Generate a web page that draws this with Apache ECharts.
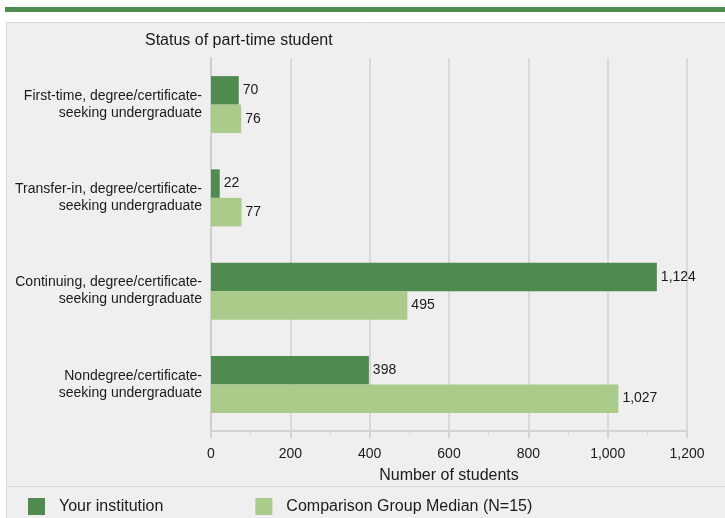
<!DOCTYPE html>
<html><head><meta charset="utf-8">
<script src="https://cdn.jsdelivr.net/npm/echarts@6/dist/echarts.min.js"></script>
<style>html,body{margin:0;padding:0;background:#fff;}#c{width:725px;height:518px;}</style>
</head><body><div id="c"></div>
<script>
const categories = [
  "First-time, degree/certificate-\nseeking undergraduate",
  "Transfer-in, degree/certificate-\nseeking undergraduate",
  "Continuing, degree/certificate-\nseeking undergraduate",
  "Nondegree/certificate-\nseeking undergraduate"
];
const yourInstitution = [70, 22, 1124, 398];
const comparisonMedian = [76, 77, 495, 1027];
const seriesNames = ["Your institution", "Comparison Group Median (N=15)"];
const xTicks = [0, 200, 400, 600, 800, 1000, 1200];

const FONT = '"Liberation Sans", Arial, sans-serif';
const chart = echarts.init(document.getElementById('c'), null, {renderer: 'canvas'});
const fmt = v => v.toLocaleString('en-US');
chart.setOption({
  animation: false,
  backgroundColor: '#ffffff',
  graphic: [
    {type: 'rect', z: -10, shape: {x: 5, y: 7, width: 720, height: 5}, style: {fill: '#4f8a4e'}},
    {type: 'rect', z: -10, shape: {x: 6.5, y: 22.5, width: 730, height: 464}, style: {fill: '#efefef', stroke: '#d9d9d9', lineWidth: 1}},
    {type: 'rect', z: -10, shape: {x: 6.5, y: 486.5, width: 730, height: 40}, style: {fill: '#efefef', stroke: '#d9d9d9', lineWidth: 1}},
    {type: 'text', left: 145, top: 33, style: {text: 'Status of part-time student', font: '16px ' + FONT, fill: '#1a1a1a'}}
  ],
  legend: {
    left: 28, top: 498, padding: 0, itemWidth: 17, itemHeight: 17, itemGap: 92,
    textStyle: {fontFamily: FONT, fontSize: 16, color: '#1a1a1a', padding: [0, 0, 0, 9]},
    data: seriesNames.map(n => ({name: n, icon: 'rect'}))
  },
  grid: {left: 211, right: 38, top: 58, bottom: 87, containLabel: false},
  xAxis: {
    type: 'value', min: 0, max: 1200, interval: 200,
    name: 'Number of students', nameLocation: 'middle', nameGap: 37,
    nameTextStyle: {fontFamily: FONT, fontSize: 16, color: '#1a1a1a'},
    axisLine: {show: true, lineStyle: {color: '#d4d4d4', width: 2}},
    axisTick: {show: true, length: 7, lineStyle: {color: '#d4d4d4', width: 2}},
    minorTick: {show: true, splitNumber: 2, length: 4, lineStyle: {color: '#d4d4d4', width: 1}},
    axisLabel: {fontFamily: FONT, fontSize: 14, color: '#1a1a1a', margin: 16, formatter: v => fmt(v)},
    splitLine: {show: true, lineStyle: {color: '#d9d9d9', width: 2}}
  },
  yAxis: {
    type: 'category', inverse: true, data: categories,
    axisLine: {show: true, lineStyle: {color: '#cfcfcf', width: 2}},
    axisTick: {show: false},
    axisLabel: {fontFamily: FONT, fontSize: 14, color: '#1a1a1a', margin: 9, lineHeight: 17, align: 'right'}
  },
  series: [
    {name: seriesNames[0], type: 'bar', data: yourInstitution, barWidth: 28.5, barGap: '0%',
     itemStyle: {color: '#4f8a4e'},
     label: {show: true, position: 'right', distance: 4, fontFamily: FONT, fontSize: 14, color: '#1a1a1a', formatter: p => fmt(p.value)}},
    {name: seriesNames[1], type: 'bar', data: comparisonMedian, barWidth: 28.5, barGap: '0%',
     itemStyle: {color: '#aacb89'},
     label: {show: true, position: 'right', distance: 4, fontFamily: FONT, fontSize: 14, color: '#1a1a1a', formatter: p => fmt(p.value)}}
  ]
});
</script></body></html>
